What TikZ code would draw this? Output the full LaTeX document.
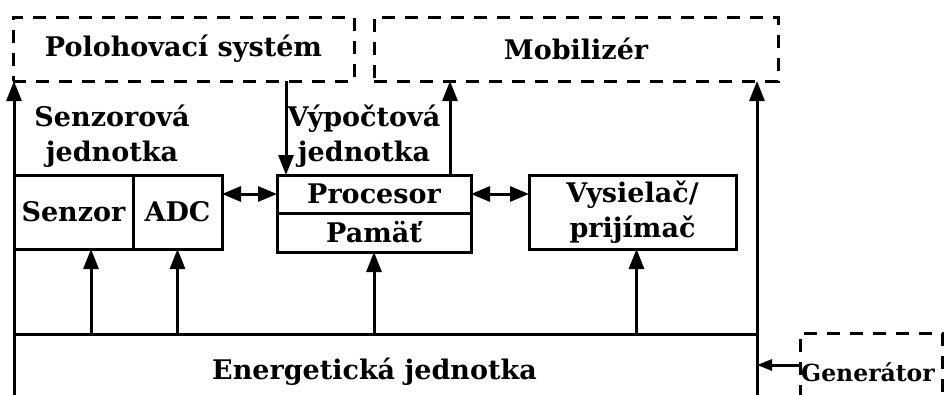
\documentclass[tikz,border=0pt]{standalone}
\usepackage{fontspec}
\setmainfont{DejaVu Serif}
\usetikzlibrary{arrows.meta}
\begin{document}
\begin{tikzpicture}[x=1pt,y=-1pt,
  font=\fontsize{27}{35}\selectfont\bfseries,
  every node/.style={inner sep=0pt,outer sep=0pt},
  blk/.style={draw,line width=3pt,align=center},
  dbox/.style={draw,line width=3pt,dash pattern=on 13pt off 10pt},
  lbl/.style={align=center},
  arr/.style={line width=3pt,-{Triangle[length=20pt,width=15pt]}},
  sarr/.style={line width=3pt,-{Triangle[length=15pt,width=11pt]}},
  darr/.style={line width=3pt,{Triangle[length=19pt,width=15pt]}-{Triangle[length=19pt,width=15pt]}}]
\useasboundingbox (0,0) rectangle (945,394);
\clip (0,0) rectangle (945,394);

% outer modules (dashed)
\node[dbox,minimum width=341pt,minimum height=64pt] (polo) at (183.5,49) {Polohovací systém};
\node[dbox,minimum width=404pt,minimum height=64pt] (mob) at (576,49) {Mobilizér};
\node[dbox,minimum width=142pt,minimum height=78pt,font=\fontsize{23.5}{26}\selectfont\bfseries] (gen) at (871,372) {\hspace*{-6pt}Generátor};

% sensor unit
\node[lbl] (senzlbl) at (112,136) {Senzorová\\jednotka};
\node[blk,minimum width=119pt,minimum height=74pt] (senzor) at (73.5,212) {Senzor};
\node[blk,minimum width=89pt,minimum height=74pt] (adc) at (177.5,212) {ADC};

% computing unit
\node[lbl] (vyplbl) at (364,136) {Výpočtová\\jednotka};
\node[blk,minimum width=194pt,minimum height=38pt] (proc) at (374,194) {Procesor};
\node[blk,minimum width=194pt,minimum height=39pt] (pamat) at (374,232.5) {Pamäť};

% transceiver
\node[blk,minimum width=207pt,minimum height=74pt] (vys) at (632.5,212) {Vysielač/\\prijímač};

% power unit
\node[blk,minimum width=743pt,minimum height=76pt] (energy) at (385.5,372) {\hspace*{-22pt}Energetická jednotka};

% power distribution
\draw[arr] (energy.north west) -- (energy.north west |- polo.south);
\draw[arr] (energy.north east) -- (energy.north east |- mob.south);
\draw[arr] ([xshift=17.5pt]senzor.south |- energy.north) -- ([xshift=17.5pt]senzor.south);
\draw[arr] (adc.south |- energy.north) -- (adc.south);
\draw[arr] (pamat.south |- energy.north) -- (pamat.south);
\draw[arr] ([xshift=4pt]vys.south |- energy.north) -- ([xshift=4pt]vys.south);
\draw[sarr] ([yshift=7pt]gen.west) -- ([yshift=7pt]gen.west -| energy.east);

% data links
\draw[darr] (proc.west -| adc.east) -- (proc.west);
\draw[darr] (proc.east) -- (proc.east -| vys.west);
\draw[arr] ([xshift=9pt]proc.north west |- polo.south) -- ([xshift=9pt]proc.north west);
\draw[arr] ([xshift=-21pt]proc.north east) -- ([xshift=-21pt]proc.north east |- mob.south);
\end{tikzpicture}
\end{document}
